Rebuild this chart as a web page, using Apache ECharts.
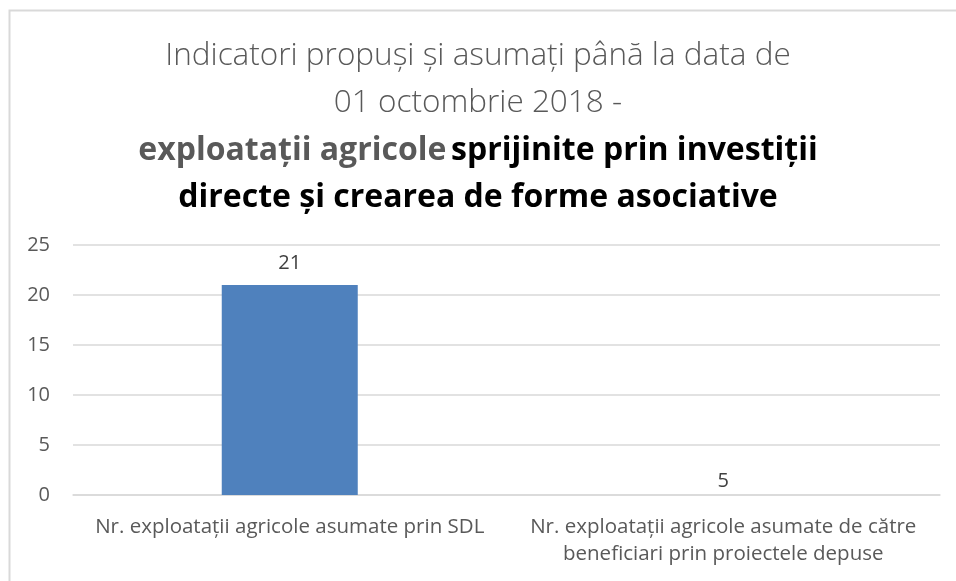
<!DOCTYPE html>
<html lang="ro">
  <head>
    <meta charset="UTF-8" />
    <title>indicatori exploatatii</title>
    <style>
      body, html {
        margin: 0;
        width: 100%;
        height: 100%;
        background: #fff;
      }
    </style>
  </head>
  <body>
    <div id="main" style="width:956px;height:581px;"></div>

    <script src="https://cdn.jsdelivr.net/npm/echarts@6/dist/echarts.min.js"></script>
    <script>
      const categories = [
        'Nr. exploatații agricole asumate prin SDL',
        'Nr. exploatații agricole asumate de către\nbeneficiari prin proiectele depuse',
      ];
      const values = [21, 5];
      const yTicks = [0, 5, 10, 15, 20, 25];

      const grey = '#595959';
      const font = 'Open Sans';

      const myChart = echarts.init(document.getElementById('main'));

      const option = {
        backgroundColor: '#fff',
        textStyle: { fontFamily: font },
        graphic: [
          {
            // chart frame, cropped on right and bottom
            type: 'rect',
            shape: { x: 9.5, y: 10.5, width: 980, height: 600 },
            style: { fill: 'none', stroke: '#d9d9d9', lineWidth: 2 },
            silent: true,
          },
        ],
        title: {
          left: 'center',
          top: 28,
          text:
            '{l|Indicatori propuși și asumați până la data de}\n' +
            '{l|01 octombrie 2018 -}\n' +
            '{g|exploatații agricole} {b|sprijinite prin investiții}\n' +
            '{b|directe și crearea de forme asociative}',
          textStyle: {
            rich: {
              l: { fontFamily: font, fontSize: 31.5, color: grey, fontWeight: 300, lineHeight: 47 },
              g: { fontFamily: font, fontSize: 32, color: grey, fontWeight: 'bold', lineHeight: 47 },
              b: { fontFamily: font, fontSize: 32, color: '#000', fontWeight: 'bold', lineHeight: 47 },
            },
          },
        },
        grid: {
          left: 73,
          right: 16,
          top: 245,
          bottom: 86,
        },
        xAxis: {
          type: 'category',
          data: categories,
          axisTick: { show: false },
          axisLine: { lineStyle: { color: '#d9d9d9', width: 1.5 } },
          axisLabel: {
            color: grey,
            fontSize: 20.5,
            lineHeight: 27,
            margin: 19,
            interval: 0,
          },
        },
        yAxis: {
          type: 'value',
          min: yTicks[0],
          max: yTicks[yTicks.length - 1],
          interval: 5,
          axisLine: { show: false },
          axisTick: { show: false },
          splitLine: { lineStyle: { color: '#d9d9d9', width: 1.5 } },
          axisLabel: { color: grey, fontSize: 20, margin: 23 },
        },
        series: [
          {
            type: 'bar',
            barWidth: 136,
            data: values.map((v, i) => ({
              value: v,
              itemStyle: { color: i === 0 ? '#4f81bd' : 'rgba(0,0,0,0)' },
              label:
                i === 0
                  ? { position: 'top', distance: 12 }
                  : { position: 'insideBottom', distance: 4 },
            })),
            label: {
              show: true,
              color: '#404040',
              fontSize: 20,
            },
          },
        ],
      };

      myChart.setOption(option);
    </script>
  </body>
</html>
